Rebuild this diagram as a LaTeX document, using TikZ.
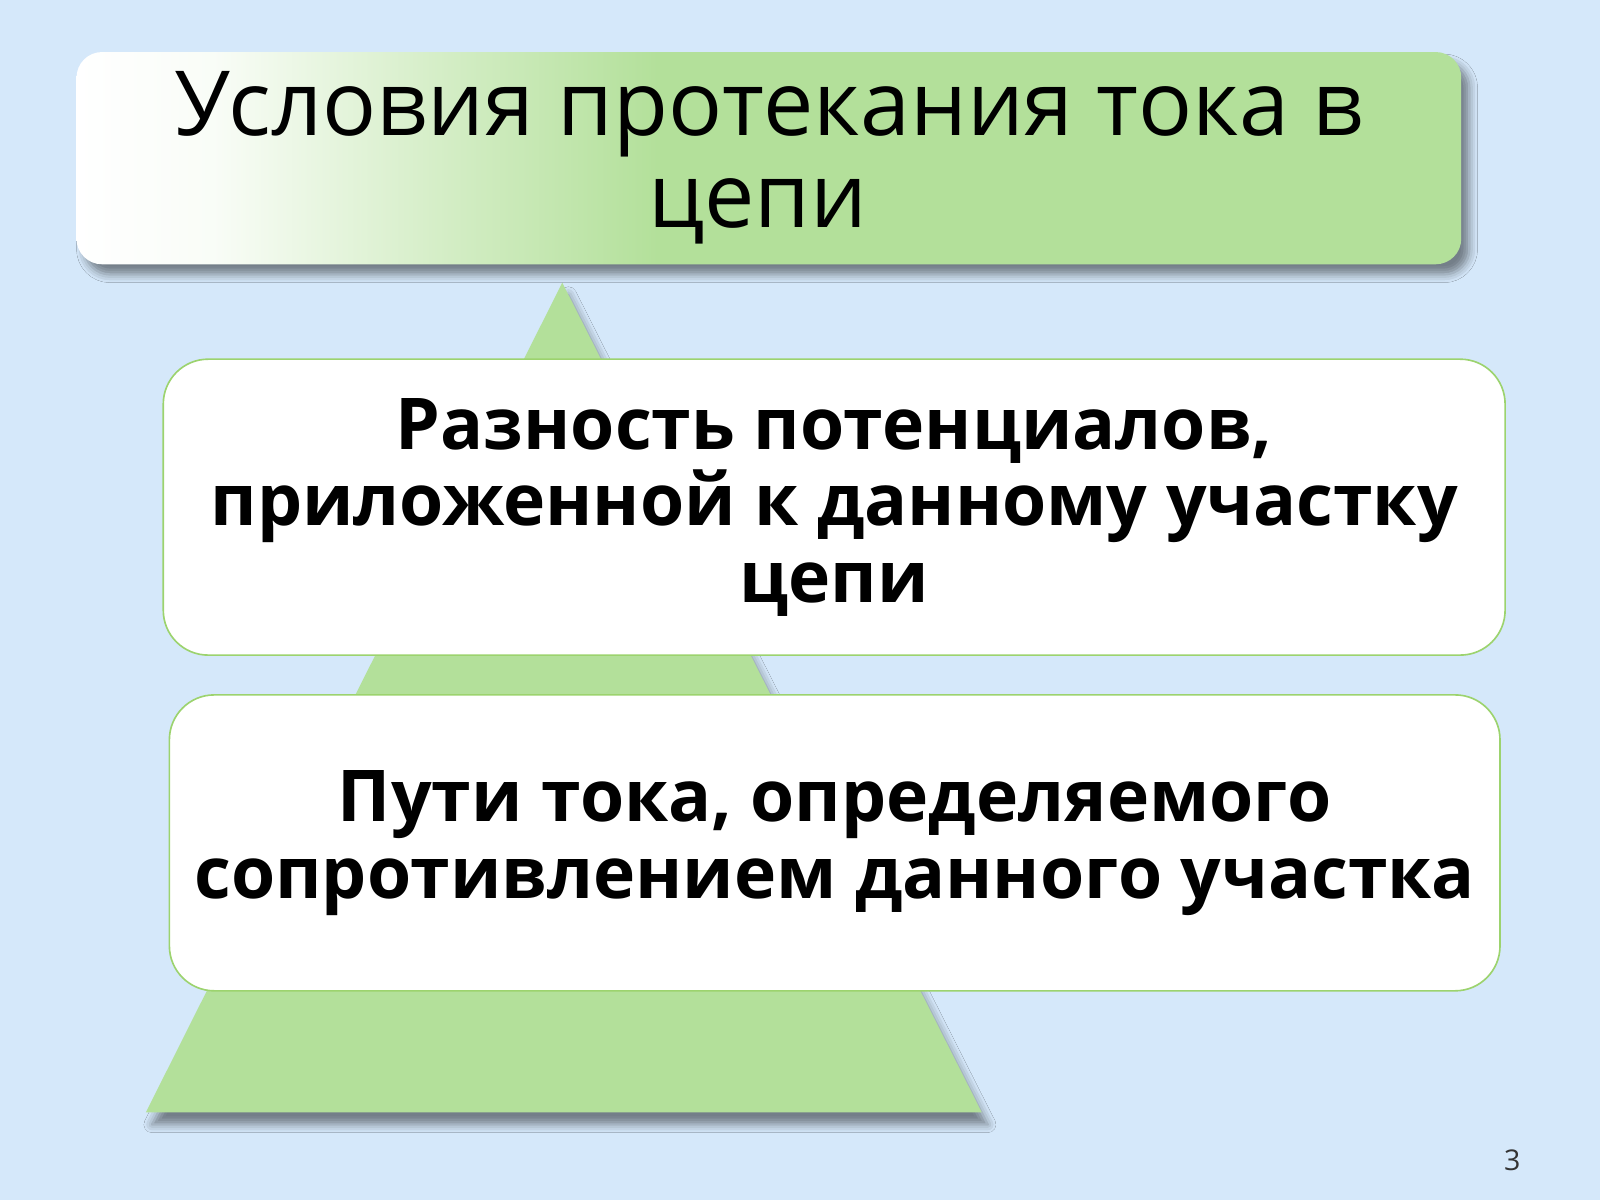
\documentclass[tikz,border=0pt]{standalone}
\usepackage{fontspec}
\setmainfont{Open Sans}
\usetikzlibrary{shadows,shadows.blur}
\definecolor{bgblue}{RGB}{213,232,250}
\definecolor{leaf}{RGB}{179,224,154}
\definecolor{leafline}{RGB}{156,211,110}
\pgfdeclarehorizontalshading{titleshade}{100bp}{color(0bp)=(white); color(25bp)=(white); color(30bp)=(white!92!leaf); color(38bp)=(white!45!leaf); color(46bp)=(leaf); color(100bp)=(leaf)}
\tikzset{
  titlebox/.style={shading=titleshade, rounded corners=12.5pt,
    minimum width=678.5pt, minimum height=104pt, inner sep=0pt, align=center,
    font=\fontsize{44}{45}\selectfont,
    blur shadow={shadow xshift=4pt, shadow yshift=-5pt, shadow blur radius=4pt, shadow opacity=45}},
  condbox/.style={fill=white, draw=leafline, line width=0.8pt, rounded corners=22pt,
    minimum height=145pt, inner sep=0pt, align=center,
    font=\bfseries\fontsize{35}{37.5}\selectfont},
  pagenum/.style={font=\fontsize{14}{14}\selectfont, text=black!80}
}
\begin{document}
\begin{tikzpicture}[x=0.5pt,y=-0.5pt]
\useasboundingbox (0,0) rectangle (1568,1176);
\fill[bgblue] (0,0) rectangle (1568,1176);
% pyramid
\path[fill=leaf, blur shadow={shadow xshift=3pt, shadow yshift=-6pt, shadow blur radius=4pt, shadow opacity=45}]
  (551,277) coordinate (apex) -- (962,1090) coordinate (br) -- (143,1090) coordinate (bl) -- cycle;
% title
\node[titlebox] (title) at (753.5,155) {Условия протекания тока в\\цепи\hspace*{11pt}};
% condition boxes
\node[condbox, minimum width=657.5pt] (c1) at (817.5,497)
  {Разность потенциалов,\\приложенной к данному участку\\цепи};
\node[condbox, minimum width=652pt] (c2) at (818,826)
  {Пути тока, определяемого\\сопротивлением данного участка};
\node[pagenum] (pg) at (1482,1137) {3};
\end{tikzpicture}
\end{document}
